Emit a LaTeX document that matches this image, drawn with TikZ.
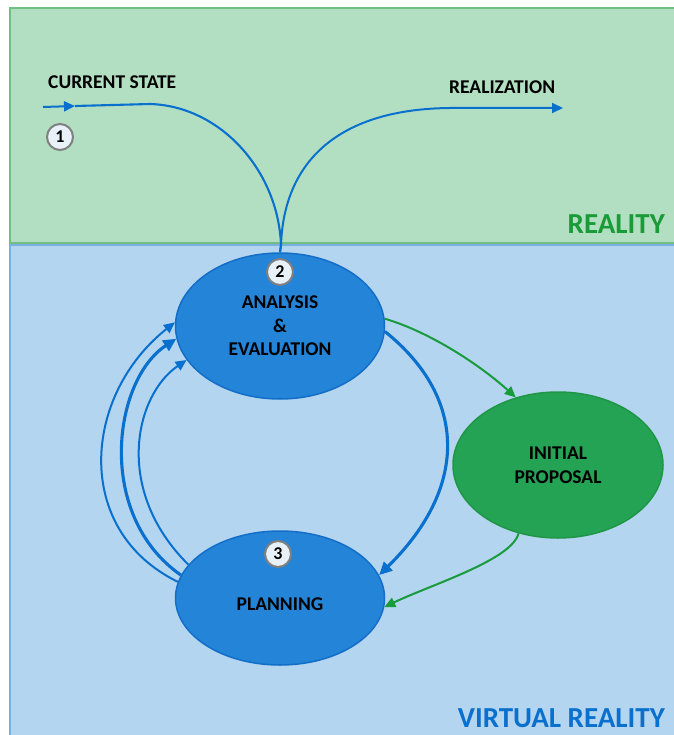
\documentclass[tikz,border=0pt]{standalone}
\usepackage{fontspec}
\setmainfont{Carlito}
\usetikzlibrary{shapes.geometric,arrows.meta}
\definecolor{greenbg}{RGB}{178,223,193}
\definecolor{greenborder}{RGB}{112,190,130}
\definecolor{bluebg}{RGB}{179,213,240}
\definecolor{blueborder}{RGB}{120,176,228}
\definecolor{ellfill}{RGB}{36,132,216}
\definecolor{ellborder}{RGB}{20,110,200}
\definecolor{arrowblue}{RGB}{10,112,206}
\definecolor{propfill}{RGB}{37,163,85}
\definecolor{propborder}{RGB}{30,150,70}
\definecolor{arrowgreen}{RGB}{25,155,60}
\definecolor{textgreen}{RGB}{25,155,55}
\definecolor{textblue}{RGB}{10,112,206}
\definecolor{badgefill}{RGB}{232,240,248}
\definecolor{badgeborder}{RGB}{128,128,128}
\begin{document}
\begin{tikzpicture}[x=1pt,y=-1pt,
  lbl/.style={font=\fontsize{19.5}{23.5}\selectfont\bfseries, text=black, align=center, inner sep=0},
  bigell/.style={ellipse, minimum width=209pt, minimum height=146pt, inner sep=0, fill=ellfill, draw=ellborder, line width=1.5pt, lbl},
  planell/.style={ellipse, minimum width=209pt, minimum height=134pt, inner sep=0, fill=ellfill, draw=ellborder, line width=1.5pt, lbl},
  propell/.style={ellipse, minimum width=210pt, minimum height=146pt, inner sep=0, fill=propfill, draw=propborder, line width=1.5pt, lbl},
  badge/.style={circle, minimum size=26pt, inner sep=0, fill=badgefill, draw=badgeborder, line width=2pt, font=\fontsize{18}{20}\selectfont\bfseries},
  zone/.style={font=\fontsize{29}{31}\selectfont\bfseries, inner sep=0, anchor=east},
  barrow/.style={draw=arrowblue, line width=2pt, -{Triangle[length=11pt,width=10pt]}},
  bthick/.style={draw=arrowblue, line width=3.1pt, -{Triangle[length=13pt,width=12pt]}},
  garrow/.style={draw=arrowgreen, line width=2pt, -{Triangle[length=11pt,width=10pt]}},
  bline/.style={draw=arrowblue, line width=2.1pt}
]
\useasboundingbox (0,0) rectangle (673,735);
\fill[white] (0,0) rectangle (673,735);
% zones
\draw[fill=greenbg, draw=greenborder, line width=2pt] (10,8) rectangle (680,243);
\draw[fill=bluebg, draw=blueborder, line width=2pt] (10,245) rectangle (680,740);
\node[zone, text=textgreen] (reality) at (665,224) {REALITY};
\node[zone, text=textblue] (vreality) at (665,718) {VIRTUAL REALITY};

% nodes
\node[bigell] (ana) at (280,326) {ANALYSIS\\\&\\EVALUATION};
\node[planell] (plan) at (280,598) {\\[1pt]PLANNING};
\node[propell] (prop) at (558,465) {INITIAL\\PROPOSAL};
\node[badge] (b1) at (60,137) {1};
\node[badge] (b2) at (280,272) {2};
\node[badge] (b3) at (278,554) {3};

\node[lbl, anchor=base west] (cs) at (48,89) {CURRENT STATE};
\node[lbl, anchor=base west] (rz) at (449,94) {REALIZATION};

% top connectors
\coordinate (s) at (43,107);
\coordinate (m) at (75,106);
\coordinate (j) at (281,245);
\coordinate (r) at (563,108);
\draw[barrow] (s) -- (m);
\draw[bline] (m) -- (150,104) .. controls (220,106) and (278,170) .. (j) -- (ana.90);
\draw[barrow] (ana.90) -- (j) .. controls (284,160) and (340,109) .. (450,108) -- (r);

% big right arc
\draw[bthick] (ana.-3) .. controls (470,400) and (466,490) .. (plan.13);
% left arcs
\draw[barrow] (plan.171) .. controls (72,530) and (83,395) .. (ana.178);
\draw[bthick] (plan.167) .. controls (95,515) and (113,380) .. (ana.187);
\draw[barrow] (plan.160) .. controls (113,490) and (135,395) .. (ana.200);
% green
\draw[garrow] (ana.4) .. controls (430,332) and (480,365) .. (prop.122);
\draw[garrow] (prop.240) .. controls (512,560) and (430,585) .. (plan.-5);
\end{tikzpicture}
\end{document}
